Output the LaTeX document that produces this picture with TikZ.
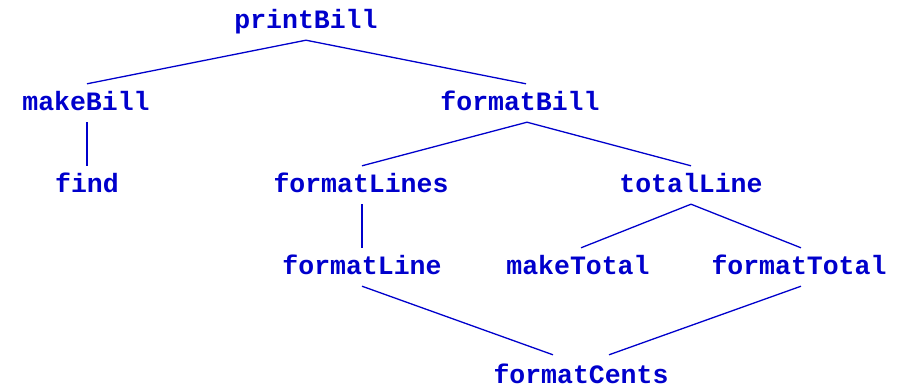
\documentclass[tikz,border=0pt]{standalone}
\usepackage{fontspec}
\setmonofont{Liberation Mono}
\definecolor{callblue}{RGB}{0,0,204}
\tikzset{
  fn/.style={font=\ttfamily\bfseries\fontsize{26.5bp}{30bp}\selectfont,
    text=callblue, inner xsep=0pt, inner ysep=11.5bp,
    text height=15bp, text depth=0pt, anchor=base},
  call/.style={draw=callblue, line width=1.3bp}
}
\begin{document}
\begin{tikzpicture}[x=1bp,y=-1bp]
\useasboundingbox (0,0) rectangle (908,387);
% functions, placed by baseline
\node[fn] (printBill)   at (306,28.5)  {printBill};
\node[fn] (makeBill)    at (86,110.5)  {makeBill};
\node[fn] (formatBill)  at (520,110.5) {formatBill};
\node[fn] (find)        at (87,192.5)  {find};
\node[fn] (formatLines) at (361,192.5) {formatLines};
\node[fn] (totalLine)   at (691,192.5) {totalLine};
\node[fn] (formatLine)  at (362,274.5) {formatLine};
\node[fn] (makeTotal)   at (578,274.5) {makeTotal};
\node[fn] (formatTotal) at (799,274.5) {formatTotal};
\node[fn] (formatCents) at (581,383) {formatCents};
% call edges
\draw[call] ([xshift=1bp]makeBill.north) -- (printBill.south) -- ([xshift=6bp]formatBill.north);
\draw[call] ([xshift=1bp]makeBill.south) -- (find.north);
\draw[call] ([xshift=1bp]formatLines.north) -- ([xshift=7bp]formatBill.south) -- (totalLine.north);
\draw[call] ([xshift=1bp]formatLines.south) -- (formatLine.north);
\draw[call] ([xshift=3bp]makeTotal.north) -- (totalLine.south) -- ([xshift=2bp]formatTotal.north);
\draw[call] (formatLine.south) -- ([xshift=-28bp,yshift=1.5bp]formatCents.north);
\draw[call] ([xshift=2bp]formatTotal.south) -- ([xshift=28bp,yshift=1.5bp]formatCents.north);
\end{tikzpicture}
\end{document}
